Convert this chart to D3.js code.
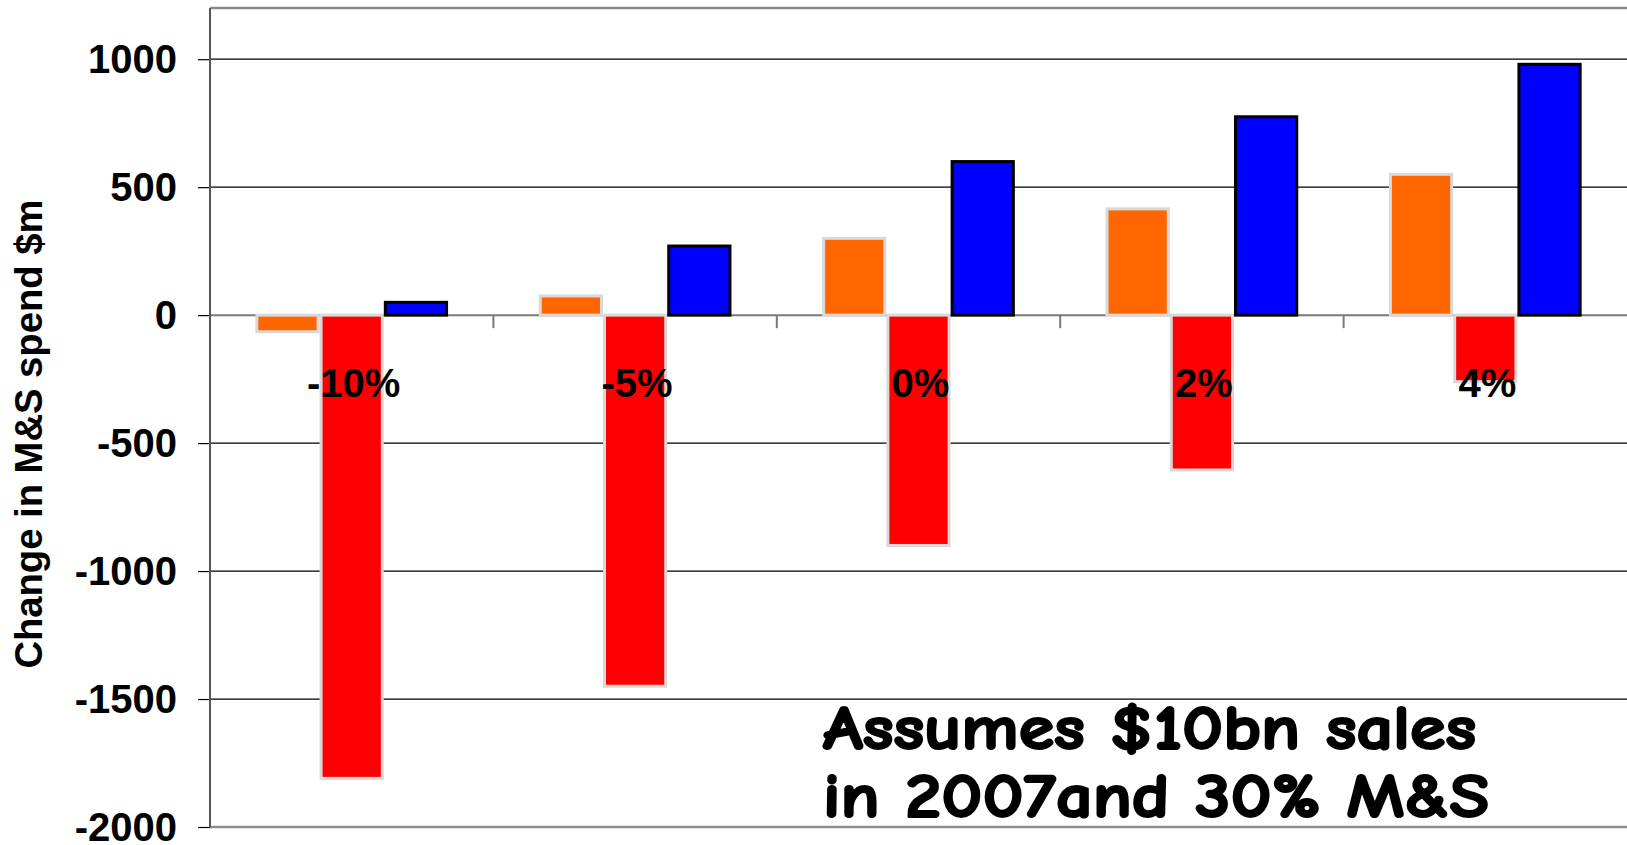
<!DOCTYPE html>
<html>
<head>
<meta charset="utf-8">
<script src="https://cdn.jsdelivr.net/npm/d3@7/dist/d3.min.js"></script>
<style>
  html, body { margin: 0; padding: 0; background: #ffffff; }
  svg { display: block; }
</style>
</head>
<body>
<svg id="chart" width="1627" height="845"></svg>
<script>
// Growth scenarios along the x axis
const categories = ["-10%", "-5%", "0%", "2%", "4%"];
// Three series of change in M&S spend ($m), one value per scenario
const seriesNames = ["Series 1", "Series 2", "Series 3"];
const series1 = [-65, 75, 300, 415, 550];
const series2 = [-1810, -1450, -900, -605, -260];
const series3 = [50, 270, 600, 775, 980];
// Value axis
const yTicks = [-2000, -1500, -1000, -500, 0, 500, 1000];
const yDomain = [-2000, 1200];
const yTitle = "Change in M&S spend $m";
// Note in the lower right of the plot
const noteLines = ["Assumes $10bn sales", "in 2007and 30% M&S"];

const seriesValues = [series1, series2, series3];
const seriesStyle = [
  { fill: "#ff6600", stroke: "#d9d9d9" },
  { fill: "#ff0000", stroke: "#d9d9d9" },
  { fill: "#0000ff", stroke: "#000000" }
];

const svg = d3.select("#chart");
const plot = { left: 210, right: 1627, top: 8, bottom: 827 };
const boldFont = "'Liberation Sans', Arial, Helvetica, sans-serif";

const x0 = d3.scaleBand()
  .domain(categories)
  .range([plot.left, plot.right])
  .paddingInner(0.32)
  .paddingOuter(0.16);

const x1 = d3.scaleBand()
  .domain(seriesNames)
  .range([0, x0.bandwidth()]);

const y = d3.scaleLinear()
  .domain(yDomain)
  .range([plot.bottom, plot.top]);

// Horizontal gridlines
svg.append("g")
  .selectAll("line")
  .data(yTicks.filter(t => t !== 0 && t !== yDomain[0]))
  .join("line")
  .attr("x1", plot.left).attr("x2", plot.right)
  .attr("y1", d => y(d)).attr("y2", d => y(d))
  .attr("stroke", "#000").attr("stroke-width", 1.2);

// Plot frame: top and bottom edges, left axis line
svg.append("line")
  .attr("x1", plot.left).attr("x2", plot.right)
  .attr("y1", y(yDomain[1])).attr("y2", y(yDomain[1]))
  .attr("stroke", "#8c8c8c").attr("stroke-width", 2.5);
svg.append("line")
  .attr("x1", plot.left).attr("x2", plot.right)
  .attr("y1", y(yDomain[0])).attr("y2", y(yDomain[0]))
  .attr("stroke", "#8c8c8c").attr("stroke-width", 2.5);

// Zero baseline
svg.append("line")
  .attr("x1", plot.left).attr("x2", plot.right)
  .attr("y1", y(0)).attr("y2", y(0))
  .attr("stroke", "#7a7a7a").attr("stroke-width", 2);

// Y axis with ticks and labels (plain hyphen for negatives)
const yAxis = svg.append("g")
  .attr("transform", `translate(${plot.left},0)`)
  .call(d3.axisLeft(y).tickValues(yTicks).tickSize(12).tickPadding(21).tickFormat(d => String(d)));
yAxis.select(".domain").remove();
yAxis.selectAll(".tick line").attr("stroke", "#000").attr("stroke-width", 1.2);
yAxis.selectAll(".tick text")
  .attr("fill", "#000")
  .attr("dy", "0.34em")
  .style("font-family", boldFont)
  .style("font-weight", "bold")
  .style("font-size", "40px");

svg.append("line")
  .attr("x1", plot.left).attr("x2", plot.left)
  .attr("y1", y(yDomain[1])).attr("y2", y(yDomain[0]))
  .attr("stroke", "#555").attr("stroke-width", 2);

// Grouped bars
const groups = svg.append("g")
  .selectAll("g")
  .data(categories)
  .join("g")
  .attr("transform", d => `translate(${x0(d)},0)`);

groups.selectAll("rect")
  .data((c, i) => seriesNames.map((s, k) => ({ s, k, v: seriesValues[k][i] })))
  .join("rect")
  .attr("x", d => x1(d.s) + 1.5)
  .attr("width", x1.bandwidth() - 3)
  .attr("y", d => y(Math.max(0, d.v)))
  .attr("height", d => Math.abs(y(d.v) - y(0)))
  .attr("fill", d => seriesStyle[d.k].fill)
  .attr("stroke", d => seriesStyle[d.k].stroke)
  .attr("stroke-width", 3);

// Category boundary ticks below the zero line
const step = x0.step();
const boundaries = categories.slice(1).map(c => x0(c) - x0.paddingInner() * step / 2);
svg.append("g")
  .selectAll("line")
  .data(boundaries)
  .join("line")
  .attr("x1", d => d).attr("x2", d => d)
  .attr("y1", y(0)).attr("y2", y(0) + 13)
  .attr("stroke", "#7a7a7a").attr("stroke-width", 2);

// Category labels
svg.append("g")
  .selectAll("text")
  .data(categories)
  .join("text")
  .attr("x", d => x0(d) + x0.bandwidth() / 2 + 2)
  .attr("y", y(0) + 82)
  .attr("text-anchor", "middle")
  .style("font-family", boldFont)
  .style("font-weight", "bold")
  .style("font-size", "40px")
  .attr("fill", "#000")
  .text(d => d);

// Y axis title
svg.append("text")
  .attr("transform", `translate(42,${(y(-1500) + y(1000)) / 2 + 55}) rotate(-90)`)
  .attr("text-anchor", "middle")
  .attr("textLength", 469)
  .attr("lengthAdjust", "spacingAndGlyphs")
  .style("font-family", boldFont)
  .style("font-weight", "bold")
  .style("font-size", "38px")
  .attr("fill", "#000")
  .text(yTitle);

// Note text
const noteWidths = [653, 666];
svg.append("g")
  .selectAll("text")
  .data(noteLines)
  .join("text")
  .attr("x", 823)
  .attr("y", (d, i) => 749 + i * 68)
  .attr("textLength", (d, i) => noteWidths[i])
  .attr("lengthAdjust", "spacingAndGlyphs")
  .style("font-family", "'Comic Sans MS', 'Comic Neue', 'DejaVu Sans', sans-serif")
  .style("font-weight", "bold")
  .style("font-size", "62px")
  .attr("fill", "#000")
  .attr("stroke", "#000")
  .attr("stroke-width", 2.2)
  .attr("stroke-linejoin", "round")
  .text(d => d);
</script>
</body>
</html>
